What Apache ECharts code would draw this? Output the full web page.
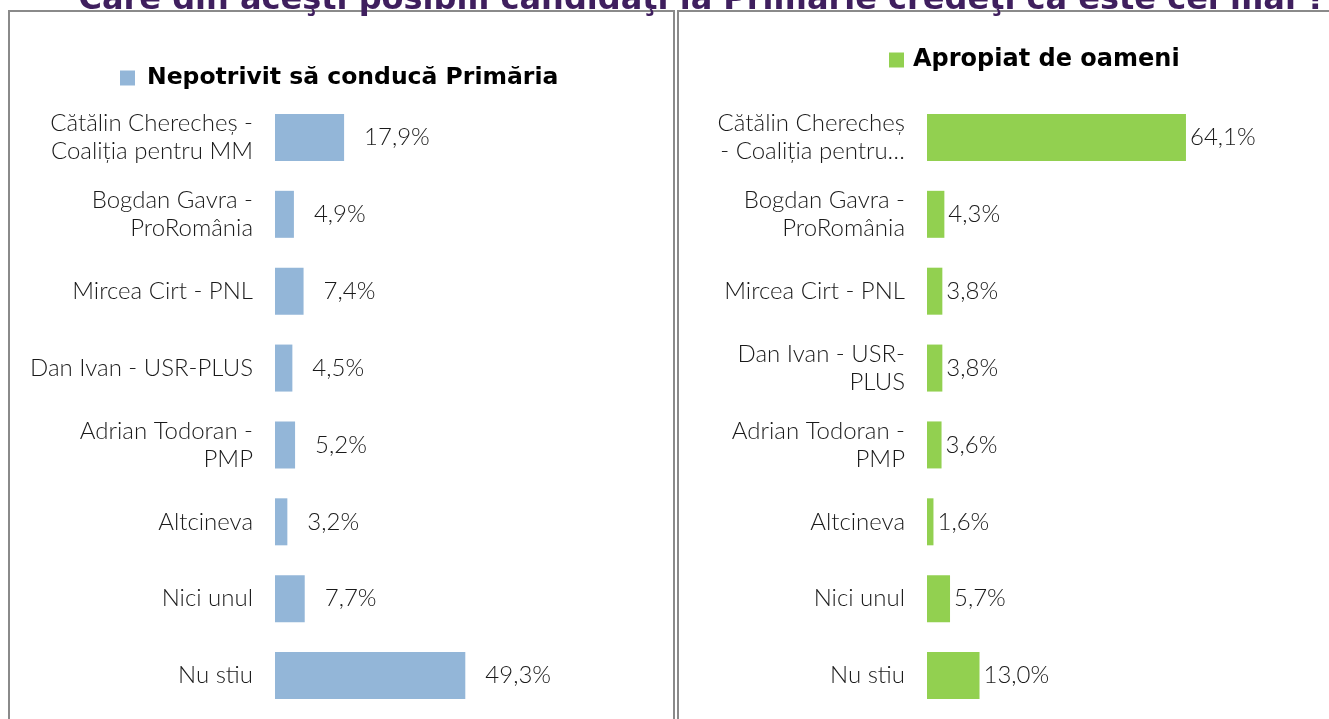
<!DOCTYPE html>
<html>
<head>
<meta charset="utf-8">
<script src="https://cdn.jsdelivr.net/npm/echarts@6/dist/echarts.min.js"></script>
<style>
  html, body { margin: 0; padding: 0; background: #fff; }
  #chart { width: 1329px; height: 719px; }
</style>
</head>
<body>
<div id="chart"></div>
<script>
// categories (same order in both panels)
const categories = [
  "Cătălin Cherecheș - Coaliția pentru MM",
  "Bogdan Gavra - ProRomânia",
  "Mircea Cirt - PNL",
  "Dan Ivan - USR-PLUS",
  "Adrian Todoran - PMP",
  "Altcineva",
  "Nici unul",
  "Nu stiu"
];
// how each panel wraps the names
const leftLabels = [
  "Cătălin Cherecheș -\nCoaliția pentru MM",
  "Bogdan Gavra -\nProRomânia",
  "Mircea Cirt - PNL",
  "Dan Ivan - USR-PLUS",
  "Adrian Todoran -\nPMP",
  "Altcineva",
  "Nici unul",
  "Nu stiu"
];
const rightLabels = [
  "Cătălin Cherecheș\n- Coaliția pentru…",
  "Bogdan Gavra -\nProRomânia",
  "Mircea Cirt - PNL",
  "Dan Ivan - USR-\nPLUS",
  "Adrian Todoran -\nPMP",
  "Altcineva",
  "Nici unul",
  "Nu stiu"
];
const nepotrivit = [17.9, 4.9, 7.4, 4.5, 5.2, 3.2, 7.7, 49.3];
const apropiat = [64.1, 4.3, 3.8, 3.8, 3.6, 1.6, 5.7, 13.0];

const titleText = "Care din aceşti posibili candidaţi la Primărie credeţi că este cel mai ?";
const labelFont = "Lato";

function pct(p) {
  return p.value.toFixed(1).replace(".", ",") + "%";
}

let chart = echarts.init(document.getElementById("chart"));

function yAxisFor(idx, labels) {
  return {
    type: "category",
    gridIndex: idx,
    data: categories,
    inverse: true,
    axisLine: { show: false },
    axisTick: { show: false },
    axisLabel: {
      margin: 22,
      fontFamily: labelFont,
      fontWeight: 300,
      fontSize: 24,
      lineHeight: 28,
      color: "#1a1a1a",
      formatter: (v, i) => labels[i]
    }
  };
}

const legendText = { fontFamily: "DejaVu Sans", fontWeight: "bold", fontSize: 24, color: "#000" };

let option = {
  animation: false,
  backgroundColor: "#fff",
  graphic: [
    {
      type: "rect",
      shape: { x: 9, y: 11, width: 665, height: 740 },
      style: { fill: "none", stroke: "#8a8a8a", lineWidth: 2 }
    },
    {
      type: "rect",
      shape: { x: 678, y: 11, width: 700, height: 740 },
      style: { fill: "none", stroke: "#8a8a8a", lineWidth: 2 }
    },
    {
      type: "text",
      x: 702,
      y: -15,
      style: {
        text: titleText,
        align: "center",
        font: "bold 32px 'DejaVu Sans'",
        fill: "#3f1f5e"
      }
    }
  ],
  legend: [
    {
      data: ["Nepotrivit să conducă Primăria"],
      left: 120,
      top: 66,
      padding: 0,
      icon: "rect",
      itemWidth: 15,
      itemHeight: 15,
      textStyle: Object.assign({}, legendText, { fontSize: 23.5, padding: [0, 0, 0, 7] })
    },
    {
      data: ["Apropiat de oameni"],
      left: 889,
      top: 48,
      padding: 0,
      icon: "rect",
      itemWidth: 15,
      itemHeight: 15,
      textStyle: Object.assign({}, legendText, { padding: [0, 0, 0, 4] })
    }
  ],
  grid: [
    { left: 275, top: 99, width: 386, height: 615 },
    { left: 927, top: 99, width: 323.2, height: 615 }
  ],
  xAxis: [
    { type: "value", gridIndex: 0, min: 0, max: 100, show: false },
    { type: "value", gridIndex: 1, min: 0, max: 80, show: false }
  ],
  yAxis: [yAxisFor(0, leftLabels), yAxisFor(1, rightLabels)],
  series: [
    {
      name: "Nepotrivit să conducă Primăria",
      type: "bar",
      xAxisIndex: 0,
      yAxisIndex: 0,
      data: nepotrivit,
      barWidth: 47,
      itemStyle: { color: "#93b6d8" },
      label: {
        show: true,
        position: "right",
        distance: 20,
        fontFamily: labelFont,
        fontWeight: 300,
        fontSize: 24,
        color: "#1a1a1a",
        formatter: pct
      }
    },
    {
      name: "Apropiat de oameni",
      type: "bar",
      xAxisIndex: 1,
      yAxisIndex: 1,
      data: apropiat,
      barWidth: 47,
      itemStyle: { color: "#92d050" },
      label: {
        show: true,
        position: "right",
        distance: 4,
        fontFamily: labelFont,
        fontWeight: 300,
        fontSize: 24,
        color: "#1a1a1a",
        formatter: pct
      }
    }
  ]
};

chart.setOption(option);
</script>
</body>
</html>
